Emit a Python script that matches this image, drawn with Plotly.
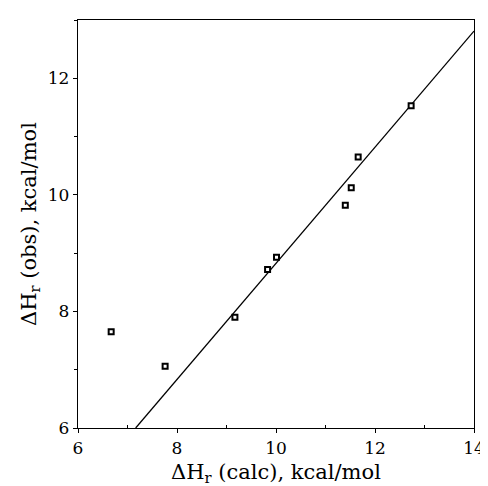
import plotly.graph_objects as go

calc = [6.67, 7.76, 9.17, 9.83, 10.01, 11.40, 11.52, 11.66, 12.73]
obs = [7.65, 7.06, 7.90, 8.72, 8.93, 9.82, 10.12, 10.65, 11.53]
fit_x = [7.165, 14.0]
fit_y = [6.0, 12.81]
x_ticks = [6, 8, 10, 12, 14]
y_ticks = [6, 8, 10, 12]

font_family = "DejaVu Serif, serif"

fig = go.Figure()
fig.add_trace(go.Scatter(x=fit_x, y=fit_y, mode="lines",
                         line=dict(color="black", width=1.3), showlegend=False))
fig.add_trace(go.Scatter(x=calc, y=obs, mode="markers",
                         marker=dict(symbol="square", size=5, color="white",
                                     line=dict(color="black", width=2)),
                         showlegend=False))

axis_common = dict(showgrid=False, zeroline=False, showline=True, linecolor="black",
                   linewidth=1.3, mirror=True, ticks="outside", ticklen=4,
                   tickcolor="black", tickfont=dict(family=font_family, size=17, color="black"))

fig.update_xaxes(range=[6, 14], tickvals=x_ticks,
                 minor=dict(tickvals=[7, 9, 11, 13], ticks="inside", ticklen=3, tickcolor="black"),
                 title=dict(text="ΔH<sub>r</sub> (calc), kcal/mol",
                            font=dict(family=font_family, size=21, color="black"), standoff=7),
                 **axis_common)
fig.update_yaxes(range=[6, 13], tickvals=y_ticks,
                 minor=dict(tickvals=[7, 9, 11, 13], ticks="outside", ticklen=3, tickcolor="black"),
                 title=dict(text="ΔH<sub>r</sub> (obs), kcal/mol",
                            font=dict(family=font_family, size=21, color="black"), standoff=5),
                 **axis_common)

fig.update_layout(width=488, height=486, margin=dict(l=70, r=11, t=12, b=66),
                  plot_bgcolor="white", paper_bgcolor="white")

fig.write_html("out.html")
